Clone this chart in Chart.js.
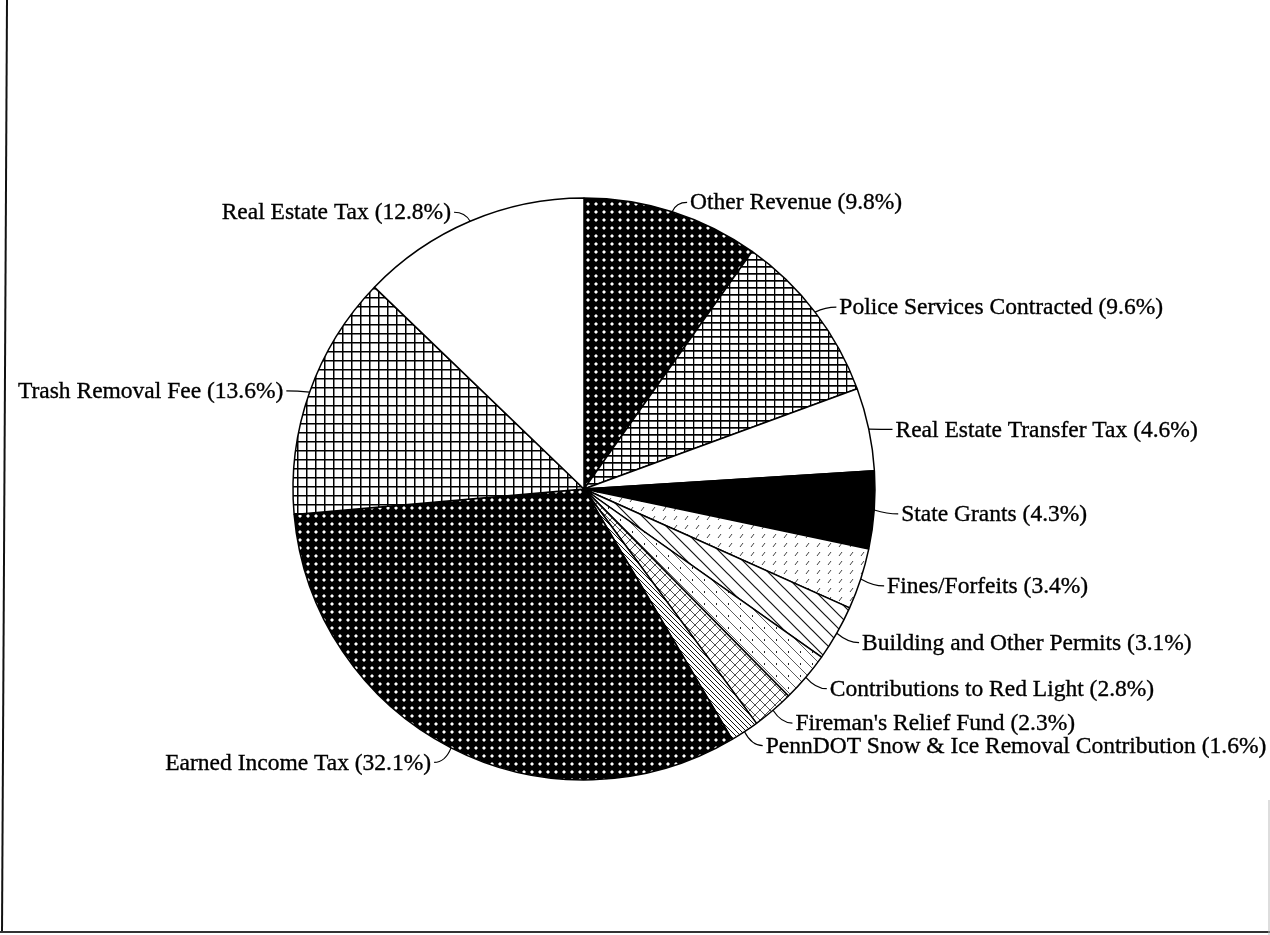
<!DOCTYPE html>
<html>
<head>
<meta charset="utf-8">
<script src="https://cdn.jsdelivr.net/npm/chart.js@4/dist/chart.umd.min.js"></script>
<style>
  html, body { margin: 0; padding: 0; background: #ffffff; }
  #wrap { width: 1270px; height: 935px; position: relative; }
  canvas { display: block; }
</style>
</head>
<body>
<div id="wrap"><canvas id="c" width="1270" height="935"></canvas></div>
<script>
// ---- Data ----
const categories = [
  "Other Revenue",
  "Police Services Contracted",
  "Real Estate Transfer Tax",
  "State Grants",
  "Fines/Forfeits",
  "Building and Other Permits",
  "Contributions to Red Light",
  "Fireman's Relief Fund",
  "PennDOT Snow & Ice Removal Contribution",
  "Earned Income Tax",
  "Trash Removal Fee",
  "Real Estate Tax"
];
const shares = [9.8, 9.6, 4.6, 4.3, 3.4, 3.1, 2.8, 2.3, 1.6, 32.1, 13.6, 12.8];
const patternKinds = ["dotsOnBlack", "fineGrid", "white", "black", "dashes", "hatch", "sparseHatch", "crossHatch", "denseHatch", "dotsOnBlack", "grid", "white"];

// ---- Pattern helpers ----
const canvas = document.getElementById('c');
const ctx = canvas.getContext('2d');
function makePattern(w, h, draw) {
  const c = document.createElement('canvas');
  c.width = w; c.height = h;
  const g = c.getContext('2d');
  g.fillStyle = '#fff'; g.fillRect(0, 0, w, h);
  draw(g, w, h);
  return ctx.createPattern(c, 'repeat');
}
function diag(g, w, h, lw, color) {
  g.strokeStyle = color; g.lineWidth = lw;
  g.beginPath();
  g.moveTo(-1, -1); g.lineTo(w + 1, h + 1);
  g.moveTo(w - 1, -1); g.lineTo(w + 1, 1);
  g.moveTo(-1, h - 1); g.lineTo(1, h + 1);
  g.stroke();
}
const patternMakers = {
  dotsOnBlack: () => makePattern(8, 8, (g) => {
    g.fillStyle = '#000'; g.fillRect(0, 0, 8, 8);
    g.fillStyle = '#fff'; g.fillRect(3, 2.5, 2, 3); g.fillRect(2.5, 3, 3, 2);
  }),
  fineGrid: () => makePattern(9, 7, (g) => {
    g.fillStyle = '#000'; g.fillRect(0, 0, 9, 1.7); g.fillRect(0, 0, 1.3, 7);
  }),
  grid: () => makePattern(9, 9, (g) => {
    g.fillStyle = '#000'; g.fillRect(0, 0, 9, 1.5); g.fillRect(0, 0, 1.5, 9);
  }),
  white: () => '#ffffff',
  black: () => '#000000',
  dashes: () => makePattern(11, 9, (g) => {
    g.strokeStyle = '#444'; g.lineWidth = 1;
    g.beginPath(); g.moveTo(3, 7); g.lineTo(6, 3); g.stroke();
  }),
  hatch: () => makePattern(14, 14, (g) => { diag(g, 14, 14, 1.2, '#111'); }),
  sparseHatch: () => makePattern(12, 12, (g) => {
    diag(g, 12, 12, 0.8, '#333');
    g.fillStyle = '#222'; g.fillRect(8, 3, 1, 2);
  }),
  crossHatch: () => makePattern(10, 10, (g) => {
    diag(g, 10, 10, 0.8, '#222');
    g.strokeStyle = '#222'; g.lineWidth = 0.8;
    g.beginPath(); g.moveTo(11, -1); g.lineTo(-1, 11); g.stroke();
  }),
  denseHatch: () => makePattern(5, 5, (g) => { diag(g, 5, 5, 1, '#111'); })
};
const fills = patternKinds.map(k => patternMakers[k]());

// ---- Pie geometry (center 584,489 ; radius ~291) ----
const BW = 1.5;
const R = 291;
const CX = 584, CY = 489;
const half = R + BW / 2;

const framePlugin = {
  id: 'frame',
  beforeDraw(chart) {
    const c = chart.ctx;
    c.save();
    c.fillStyle = '#fff';
    c.fillRect(0, 0, chart.width, chart.height);
    c.strokeStyle = '#111';
    c.lineWidth = 2;
    c.beginPath(); c.moveTo(7, 0); c.lineTo(2, 933); c.stroke();
    c.strokeStyle = '#333';
    c.beginPath(); c.moveTo(0, 932); c.lineTo(1270, 932); c.stroke();
    c.strokeStyle = '#bbb'; c.lineWidth = 1;
    c.beginPath(); c.moveTo(1269, 800); c.lineTo(1269, 935); c.stroke();
    c.restore();
  }
};

const labelPlugin = {
  id: 'leaderLabels',
  afterDatasetsDraw(chart) {
    const c = chart.ctx;
    const meta = chart.getDatasetMeta(0);
    const ds = chart.data.datasets[0];
    c.save();
    c.font = '23.5px "Liberation Serif", "Times New Roman", serif';
    c.fillStyle = '#000';
    c.strokeStyle = '#000';
    c.textBaseline = 'middle';
    meta.data.forEach((arc, i) => {
      const mid = (arc.startAngle + arc.endAngle) / 2;
      const r = arc.outerRadius;
      const dx = Math.cos(mid), dy = Math.sin(mid);
      const x0 = arc.x + dx * r, y0 = arc.y + dy * r;
      const x1 = arc.x + dx * (r + 13), y1 = arc.y + dy * (r + 13) + 3;
      const right = dx >= 0;
      const x2 = x1 + (right ? 11 : -11);
      c.lineWidth = 1.2;
      c.beginPath();
      c.moveTo(x0, y0);
      c.quadraticCurveTo(x1, y1, x2, y1);
      c.stroke();
      const text = chart.data.labels[i] + ' (' + ds.data[i] + '%)';
      c.textAlign = right ? 'left' : 'right';
      const tx = x2 + (right ? 3 : -3), ty = y1 + 1;
      c.fillText(text, tx, ty);
      c.lineWidth = 0.35;
      c.strokeText(text, tx, ty);
    });
    c.restore();
  }
};

new Chart(canvas, {
  type: 'pie',
  data: {
    labels: categories,
    datasets: [{
      data: shares,
      backgroundColor: fills,
      borderColor: '#000',
      borderWidth: BW,
      borderAlign: 'center',
      hoverOffset: 0
    }]
  },
  options: {
    responsive: false,
    devicePixelRatio: 1,
    animation: false,
    events: [],
    layout: {
      padding: {
        left: CX - half,
        right: 1270 - CX - half,
        top: CY - half,
        bottom: 935 - CY - half
      }
    },
    plugins: {
      legend: { display: false },
      tooltip: { enabled: false },
      title: { display: false }
    }
  },
  plugins: [framePlugin, labelPlugin]
});
</script>
</body>
</html>
